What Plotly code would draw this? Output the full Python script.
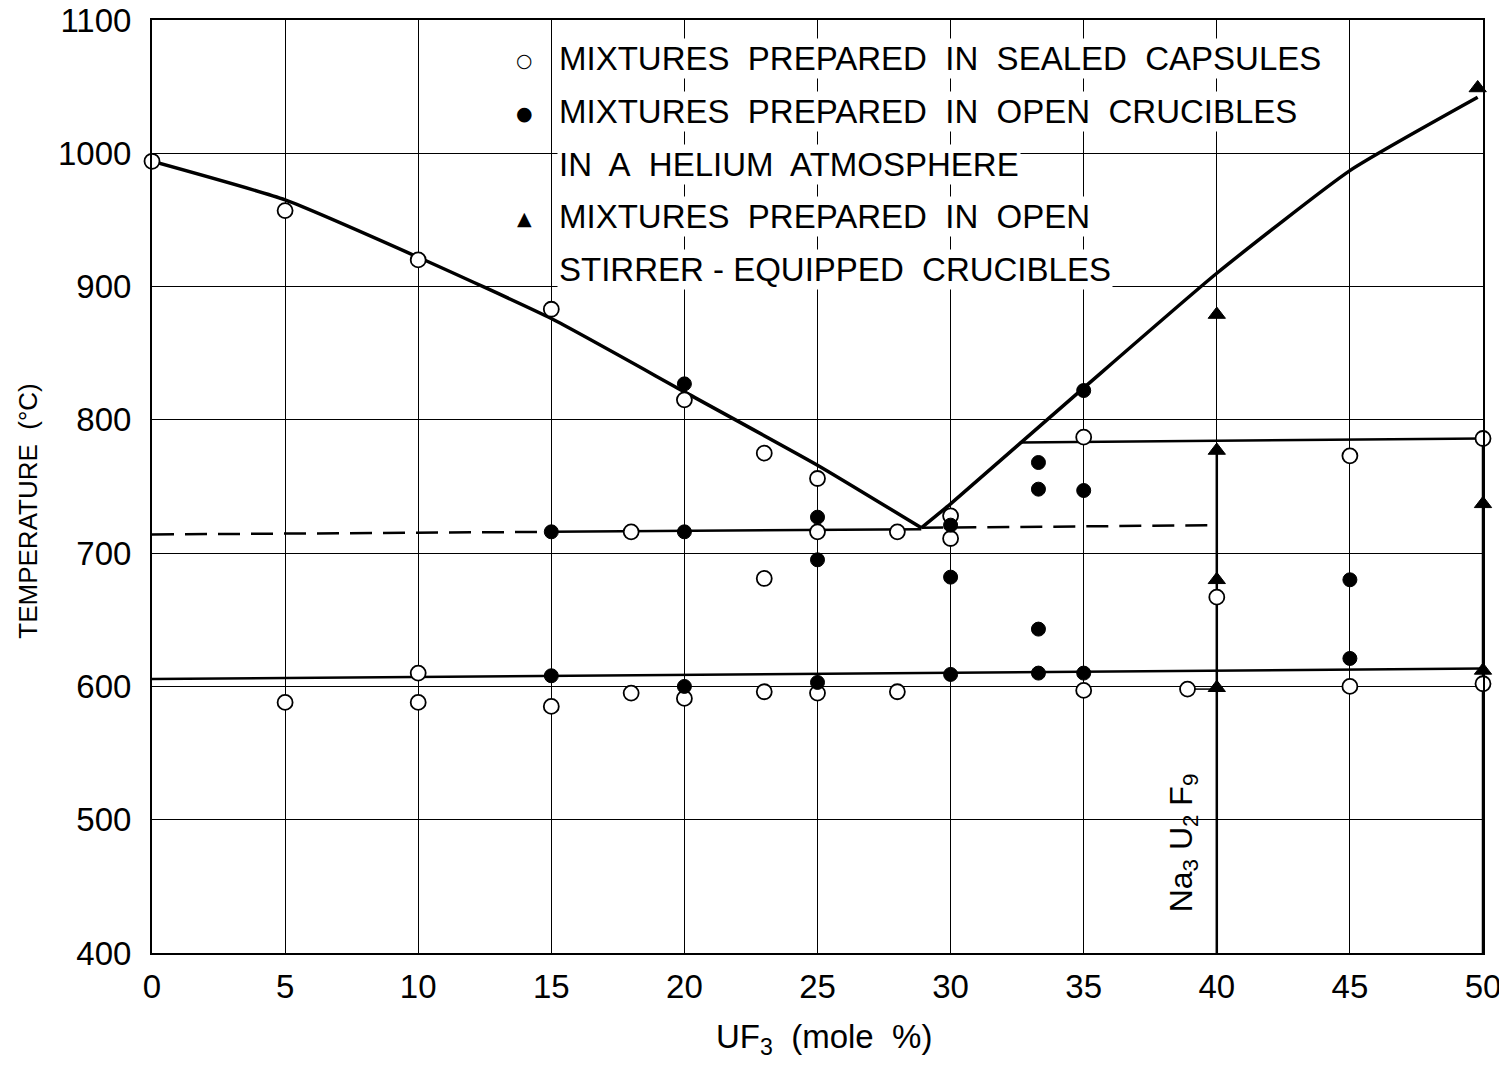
import plotly.graph_objects as go

# Open circles: mixtures prepared in sealed capsules
sealed_x = [0, 5, 10, 15, 20, 23, 25, 25, 23, 18, 28, 30, 30, 35, 40, 45, 50,
            5, 10, 10, 15, 18, 20, 23, 25, 28, 35, 38.9, 45, 50]
sealed_y = [994, 957, 920, 883, 815, 775, 756, 716, 681, 716, 716, 728, 711, 787, 667, 773, 786,
            588, 610, 588, 585, 595, 591, 596, 595, 596, 597, 598, 600, 602]

# Filled circles: open crucibles in a helium atmosphere
helium_x = [20, 15, 20, 25, 25, 30, 30, 35, 33.3, 33.3, 35, 33.3, 45,
            15, 20, 25, 30, 33.3, 35, 45]
helium_y = [827, 716, 716, 727, 695, 721, 682, 822, 768, 748, 747, 643, 680,
            608, 600, 603, 609, 610, 610, 621]

# Triangles: open stirrer-equipped crucibles
stirrer_x = [40, 40, 40, 40, 49.8, 50, 50]
stirrer_y = [879, 777, 680, 599, 1049, 737, 612]

# phase boundary curves
liq_left_x = [0, 5, 10, 15, 20, 25, 28.9]
liq_left_y = [994, 965, 922, 876, 821, 766, 719]
liq_right_x = [28.9, 30, 35, 40, 45, 49.8]
liq_right_y = [719, 737, 824, 910, 987, 1042]
eut_x = [15, 28.9]
eut_y = [716, 718]
eut_dash_left_x = [0, 15]
eut_dash_left_y = [714, 716]
eut_dash_right_x = [28.9, 40]
eut_dash_right_y = [719, 721]
perit_x = [32.6, 50]
perit_y = [783, 786]
solidus_x = [0, 50]
solidus_y = [605.5, 613.5]
link_x = [38.9, 40]
link_y = [598, 598]
comp_x = [40, 40]
comp_y = [400, 777]
edge_x = [50, 50]
edge_y = [400, 786]

x_ticks = list(range(0, 51, 5))
y_ticks = list(range(400, 1101, 100))

FONT = "Liberation Sans, DejaVu Sans, sans-serif"

fig = go.Figure()

def add_line(x, y, width, dash="solid", shape="linear"):
    fig.add_trace(go.Scatter(x=x, y=y, mode="lines",
                             line=dict(color="black", width=width, dash=dash,
                                       shape=shape, smoothing=0.5),
                             showlegend=False, hoverinfo="skip"))

add_line(liq_left_x, liq_left_y, 3.5, shape="spline")
add_line(liq_right_x, liq_right_y, 3.5, shape="spline")
add_line(eut_x, eut_y, 2.5)
add_line(eut_dash_left_x, eut_dash_left_y, 2.5, "22px,11px")
add_line(eut_dash_right_x, eut_dash_right_y, 2.5, "22px,11px")
add_line(perit_x, perit_y, 2.5)
add_line(solidus_x, solidus_y, 2.5)
add_line(link_x, link_y, 1.5)
add_line(comp_x, comp_y, 2.5)
add_line(edge_x, edge_y, 2.5)

fig.add_trace(go.Scatter(x=sealed_x, y=sealed_y, mode="markers", cliponaxis=False,
                         marker=dict(symbol="circle", size=15, color="white",
                                     line=dict(color="black", width=1.8)),
                         showlegend=False))
fig.add_trace(go.Scatter(x=helium_x, y=helium_y, mode="markers", cliponaxis=False,
                         marker=dict(symbol="circle", size=14, color="black",
                                     line=dict(color="black", width=1)),
                         showlegend=False))
fig.add_trace(go.Scatter(x=stirrer_x, y=stirrer_y, mode="markers", cliponaxis=False,
                         marker=dict(symbol="triangle-up", size=15, color="black",
                                     line=dict(color="black", width=1)),
                         showlegend=False))

# key, typed like the original lettering
key_lines = [
    "MIXTURES\u00a0 PREPARED\u00a0 IN\u00a0 SEALED\u00a0 CAPSULES",
    "MIXTURES\u00a0 PREPARED\u00a0 IN\u00a0 OPEN\u00a0 CRUCIBLES",
    "IN\u00a0 A\u00a0 HELIUM\u00a0 ATMOSPHERE",
    "MIXTURES\u00a0 PREPARED\u00a0 IN\u00a0 OPEN",
    "STIRRER\u00a0-\u00a0EQUIPPED\u00a0 CRUCIBLES",
]
key_y = [1071, 1031, 991.5, 952.5, 912.7]
for txt, ky in zip(key_lines, key_y):
    fig.add_annotation(x=15.2, y=ky, text=txt, showarrow=False, xanchor="left",
                       yanchor="middle", font=dict(family=FONT, size=33, color="black"),
                       bgcolor="white")
key_sym = ["\u25cb", "\u25cf", "\u25b2"]
key_sym_y = [1070, 1030, 951.5]
for s, ky in zip(key_sym, key_sym_y):
    fig.add_annotation(x=14.0, y=ky, text=s, showarrow=False,
                       font=dict(family="DejaVu Sans", size=19, color="black"))

fig.add_annotation(x=38.73, y=483, text="Na<sub>3</sub> U<sub>2</sub> F<sub>9</sub>",
                   textangle=-90, showarrow=False,
                   font=dict(family=FONT, size=32, color="black"))

fig.add_annotation(x=0.505, y=0, xref="paper", yref="paper", yshift=-86,
                   xanchor="center", yanchor="middle",
                   text="UF<sub>3</sub>\u00a0 (mole\u00a0 %)", showarrow=False,
                   font=dict(family=FONT, size=33, color="black"))
fig.add_annotation(x=0, y=0.473, xref="paper", yref="paper", xshift=-124,
                   xanchor="center", yanchor="middle",
                   text="TEMPERATURE\u00a0 (\u00b0C)", textangle=-90, showarrow=False,
                   font=dict(family=FONT, size=26, color="black"))

fig.update_xaxes(range=[0, 50], tickvals=x_ticks, showgrid=True, gridcolor="black",
                 gridwidth=1, zeroline=False, showline=True, linecolor="black",
                 linewidth=2, mirror=True, ticks="", ticklabelstandoff=3,
                 automargin=False, ticklabeloverflow="allow",
                 tickfont=dict(family=FONT, size=33, color="black"))
fig.update_yaxes(range=[400, 1100], tickvals=y_ticks, showgrid=True, gridcolor="black",
                 gridwidth=1, zeroline=False, showline=True, linecolor="black",
                 linewidth=2, mirror=True, ticks="", ticklabelstandoff=12,
                 automargin=False, ticklabeloverflow="allow",
                 tickfont=dict(family=FONT, size=33, color="black"))

# page body adds an 8px offset, so the figure is a bit smaller than the window
fig.update_layout(width=1499, height=1051, plot_bgcolor="white", paper_bgcolor="white",
                  margin=dict(l=144, r=24, t=12, b=106), showlegend=False)

fig.write_html("out.html")
